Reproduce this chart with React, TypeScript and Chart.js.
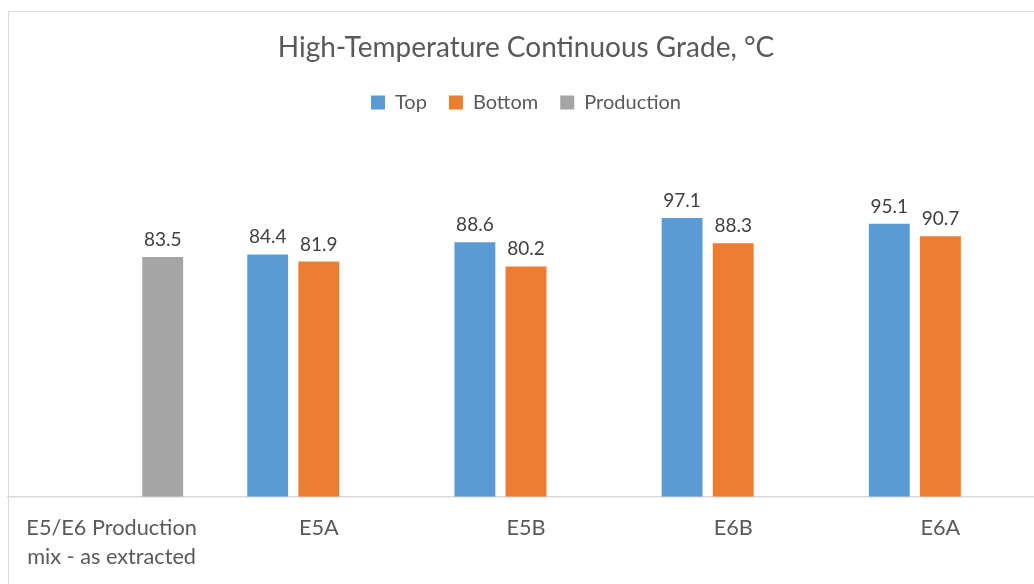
import React, { useEffect, useRef } from "react";
import { Chart, registerables } from "chart.js";

Chart.register(...registerables);

const categories: (string | string[])[] = [
  ["E5/E6 Production", "mix - as extracted"],
  "E5A",
  "E5B",
  "E6B",
  "E6A",
];
const topValues: (number | null)[] = [null, 84.4, 88.6, 97.1, 95.1];
const bottomValues: (number | null)[] = [null, 81.9, 80.2, 88.3, 90.7];
const productionValues: (number | null)[] = [83.5, null, null, null, null];

const FONT = "Lato, 'Noto Sans', sans-serif";

const borderPlugin = {
  id: "chartBorder",
  beforeDraw(chart: any) {
    const ctx = chart.ctx;
    ctx.save();
    ctx.strokeStyle = "#d9d9d9";
    ctx.lineWidth = 1;
    ctx.strokeRect(8.5, 11.5, 1100, 1000);
    ctx.restore();
  },
};

const valueLabelPlugin = {
  id: "valueLabels",
  afterDatasetsDraw(chart: any) {
    const ctx = chart.ctx;
    ctx.save();
    ctx.font = `19px ${FONT}`;
    ctx.fillStyle = "#404040";
    ctx.textAlign = "center";
    ctx.textBaseline = "alphabetic";
    chart.data.datasets.forEach((ds: any, i: number) => {
      const meta = chart.getDatasetMeta(i);
      meta.data.forEach((bar: any, j: number) => {
        const v = ds.data[j];
        if (v === null || v === undefined) return;
        ctx.fillText(Number(v).toFixed(1), bar.x, bar.y - 11);
      });
    });
    ctx.restore();
  },
};

export default function App() {
  const canvasRef = useRef<HTMLCanvasElement | null>(null);

  useEffect(() => {
    if (!canvasRef.current) return;
    const chart = new Chart(canvasRef.current, {
      type: "bar",
      data: {
        labels: categories,
        datasets: [
          {
            label: "Top",
            data: topValues,
            backgroundColor: "#5B9BD5",
            categoryPercentage: 0.74,
            barPercentage: 0.8,
          },
          {
            label: "Bottom",
            data: bottomValues,
            backgroundColor: "#ED7D31",
            categoryPercentage: 0.74,
            barPercentage: 0.8,
          },
          {
            label: "Production",
            data: productionValues,
            backgroundColor: "#A5A5A5",
            categoryPercentage: 0.74,
            barPercentage: 0.8,
          },
        ],
      },
      options: {
        responsive: false,
        animation: false,
        layout: { padding: { left: 8, right: 6, top: 0, bottom: 1 } },
        plugins: {
          title: {
            display: true,
            text: "High-Temperature Continuous Grade, °C",
            color: "#595959",
            font: { family: FONT, size: 28, weight: "normal" },
            padding: { top: 31, bottom: 6 },
          },
          legend: {
            display: true,
            position: "top",
            labels: {
              color: "#595959",
              font: { family: FONT, size: 20 },
              boxWidth: 14,
              boxHeight: 14,
              padding: 22,
            },
          },
          tooltip: { enabled: false },
        },
        scales: {
          x: {
            grid: { display: false, drawTicks: false },
            border: { display: true, color: "#d9d9d9", width: 1.5 },
            ticks: {
              color: "#595959",
              font: { family: FONT, size: 21.7, lineHeight: 1.34 },
              padding: 17,
              maxRotation: 0,
              autoSkip: false,
            },
          },
          y: {
            display: false,
            min: 0,
            max: 130.3,
          },
        },
      },
      plugins: [borderPlugin, valueLabelPlugin],
    });
    return () => chart.destroy();
  }, []);

  return (
    <div
      style={{
        position: "fixed",
        left: 0,
        top: 0,
        width: 1034,
        height: 584,
        overflow: "hidden",
        background: "#fff",
      }}
    >
      <canvas ref={canvasRef} width={1050} height={590} style={{ display: "block" }} />
    </div>
  );
}
